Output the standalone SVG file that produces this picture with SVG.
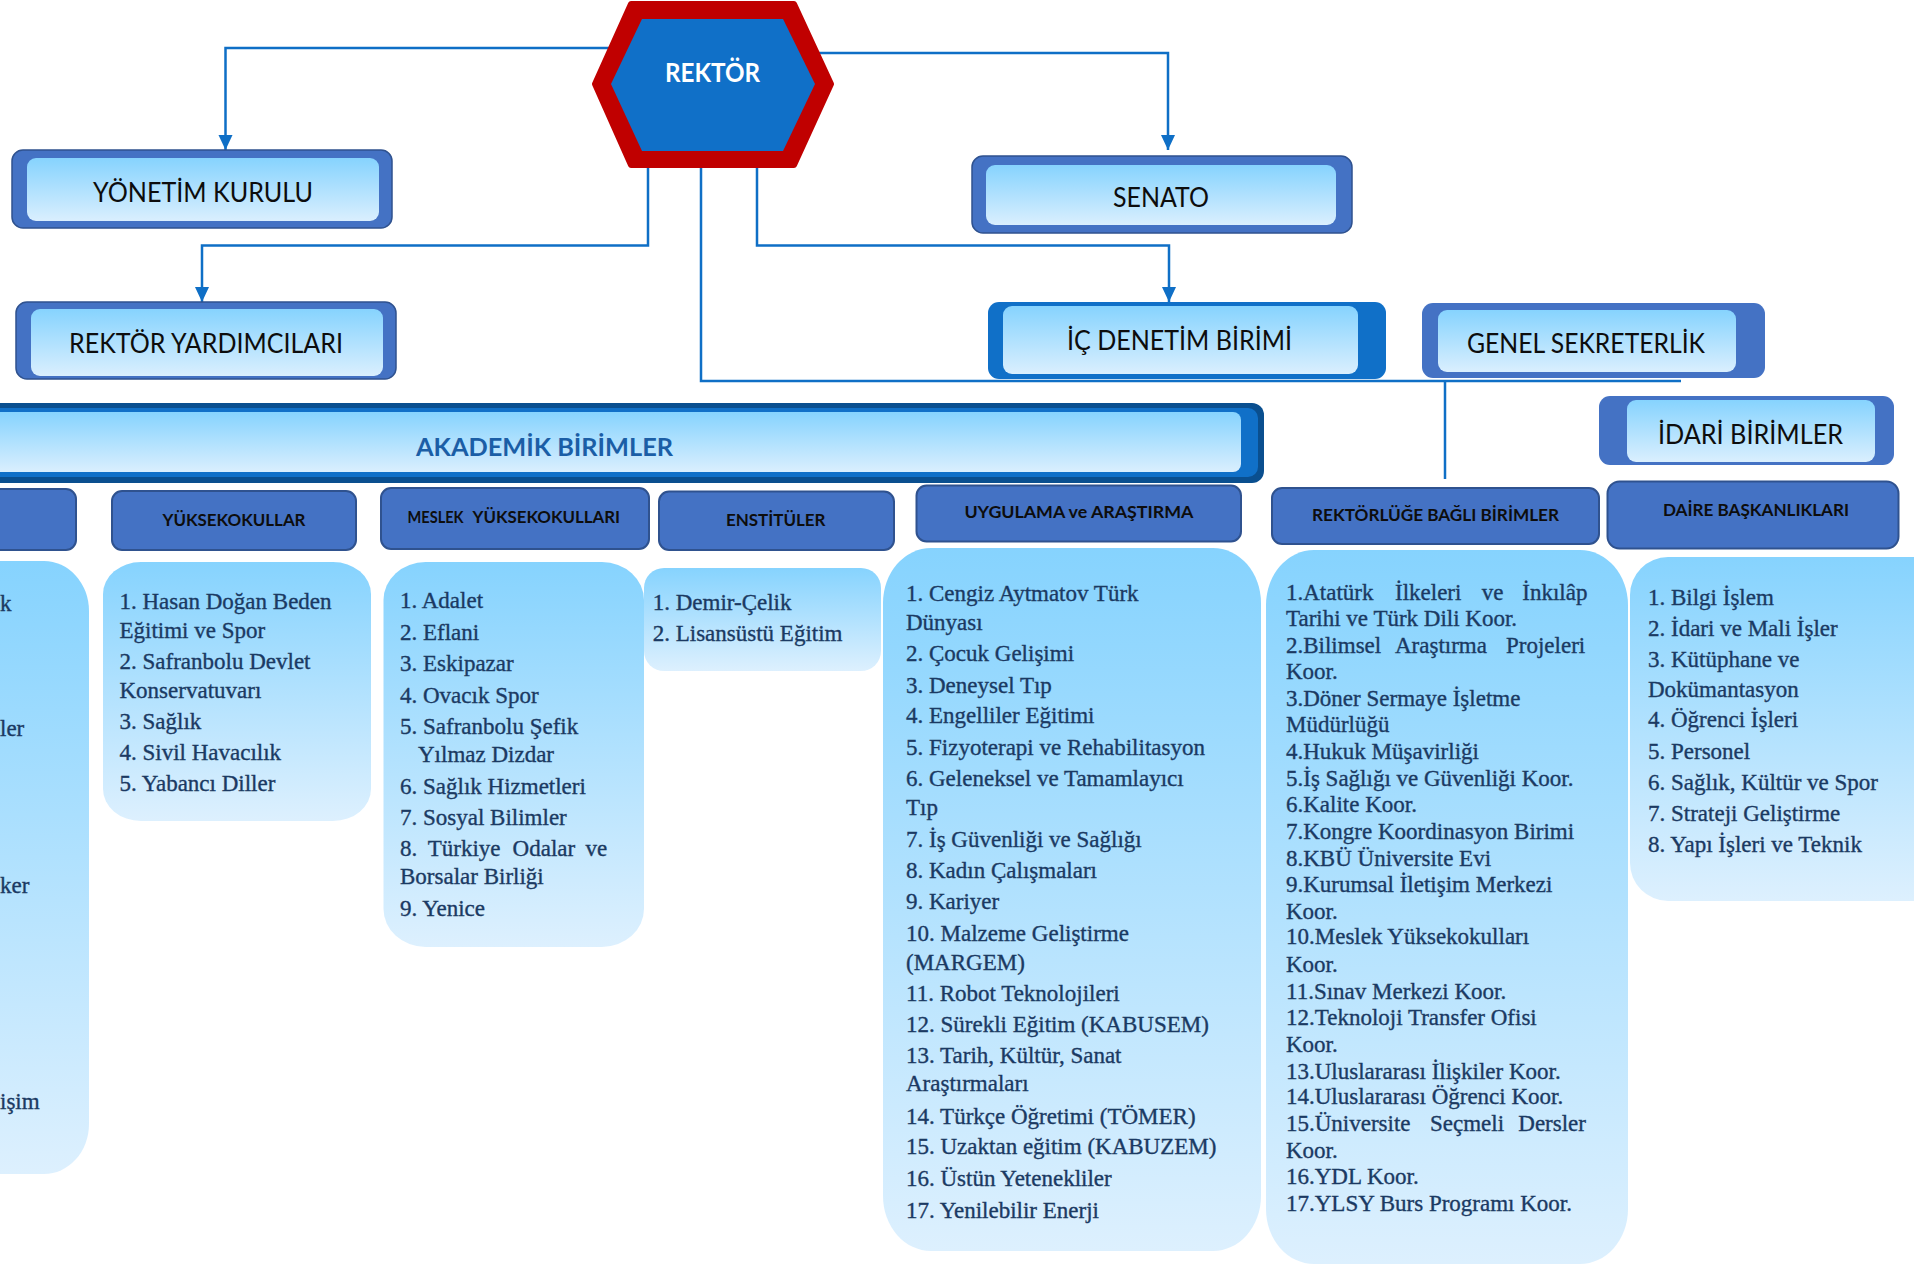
<svg xmlns="http://www.w3.org/2000/svg" width="1914" height="1267" viewBox="0 0 1914 1267">
<defs>
<linearGradient id="lg" x1="0" y1="0" x2="0" y2="1"><stop offset="0" stop-color="#86D3FE"/><stop offset="1" stop-color="#DAEFFE"/></linearGradient>
<linearGradient id="lg2" x1="0" y1="0" x2="0" y2="1"><stop offset="0" stop-color="#86D3FE"/><stop offset="1" stop-color="#DDF0FE"/></linearGradient>
<style>
.lbl{font-family:Lato,"Liberation Sans",sans-serif;font-size:26px;fill:#0D0D0D}
.hdr{font-family:Lato,"Liberation Sans",sans-serif;font-weight:bold;font-size:17px;fill:#0D0D0D}
.lst{font-family:"Liberation Serif",serif;font-size:23px;fill:#1B3A63;stroke:#1B3A63;stroke-width:0.35}
.obox{fill:#4472C4;stroke:#2F528F;stroke-width:1.5}
.hbox{fill:#4472C4;stroke:#2F528F;stroke-width:2}
.ibox{fill:url(#lg)}
.lbox{fill:url(#lg2)}
.conn{fill:none;stroke:#0F6FC6;stroke-width:2.5}
.arrow{fill:#0F6FC6}
</style>
</defs>
<rect width="1914" height="1267" fill="#FFFFFF"/>

<g id="connectors">
<path class="conn" d="M611,48 H225.5 V150"/>
<path class="conn" d="M648,166 V245.5 H202 V302"/>
<path class="conn" d="M816,53 H1168 V150"/>
<path class="conn" d="M757,166 V245.5 H1169 V302"/>
<path class="conn" d="M701,166 V381 H1681"/>
<path class="conn" d="M1445,381 V479"/>
<path class="arrow" d="M218.5,135 L232.5,135 L225.5,150 Z"/>
<path class="arrow" d="M195,287 L209,287 L202,302 Z"/>
<path class="arrow" d="M1161,135 L1175,135 L1168,150 Z"/>
<path class="arrow" d="M1162,287 L1176,287 L1169,302 Z"/>
</g>

<g id="rektor">
<polygon points="631,4 794,4 831,84 794,165 631,165 595,84" fill="#C00000" stroke="#C00000" stroke-width="6" stroke-linejoin="round"/>
<polygon points="642,19 783,19 815,84 783,151 642,151 611,84" fill="#1070C8"/>
<text x="665" y="82" font-family="Lato,'Liberation Sans',sans-serif" font-weight="bold" font-size="26" fill="#FFFFFF" textLength="95" lengthAdjust="spacingAndGlyphs">REKTÖR</text>
</g>

<g id="yonetim-kurulu">
<rect class="obox" x="12" y="150" width="380" height="78" rx="11"/>
<rect class="ibox" x="27" y="158" width="352" height="63" rx="9"/>
<text class="lbl" x="93" y="202" textLength="220" lengthAdjust="spacingAndGlyphs">YÖNETİM KURULU</text>
</g>

<g id="rektor-yardimcilari">
<rect class="obox" x="16" y="302" width="380" height="77" rx="11"/>
<rect class="ibox" x="31" y="309" width="352" height="67" rx="9"/>
<text class="lbl" x="69" y="353" textLength="274" lengthAdjust="spacingAndGlyphs">REKTÖR YARDIMCILARI</text>
</g>

<g id="senato">
<rect class="obox" x="972" y="156" width="380" height="77" rx="11"/>
<rect class="ibox" x="986" y="165" width="350" height="60" rx="9"/>
<text class="lbl" x="1113" y="207" textLength="96" lengthAdjust="spacingAndGlyphs">SENATO</text>
</g>

<g id="ic-denetim">
<rect x="988" y="302" width="398" height="77" rx="11" fill="#1070C8"/>
<rect class="ibox" x="1003" y="306" width="355" height="68" rx="9"/>
<text class="lbl" x="1067" y="350" textLength="225" lengthAdjust="spacingAndGlyphs">İÇ DENETİM BİRİMİ</text>
</g>

<g id="genel-sekreterlik">
<rect x="1422" y="303" width="343" height="75" rx="11" fill="#4472C4"/>
<rect class="ibox" x="1438" y="310" width="298" height="62" rx="9"/>
<text class="lbl" x="1467" y="353" textLength="238" lengthAdjust="spacingAndGlyphs">GENEL SEKRETERLİK</text>
</g>

<g id="idari-birimler">
<rect x="1599" y="396" width="295" height="69" rx="11" fill="#4472C4"/>
<rect class="ibox" x="1627" y="400" width="248" height="62" rx="9"/>
<text class="lbl" x="1658" y="444" textLength="185" lengthAdjust="spacingAndGlyphs">İDARİ BİRİMLER</text>
</g>

<g id="akademik-birimler">
<rect x="-30" y="403" width="1294" height="80" rx="12" fill="#0A4F8F"/>
<rect x="-30" y="408" width="1288" height="69" rx="10" fill="#1070C8"/>
<rect x="-30" y="412" width="1271" height="60" rx="8" fill="url(#lg)"/>
<text x="416" y="456" font-family="Lato,'Liberation Sans',sans-serif" font-weight="bold" font-size="24" fill="#1B5EA6" textLength="257" lengthAdjust="spacingAndGlyphs">AKADEMİK BİRİMLER</text>
</g>

<g id="fakulteler">
<rect class="hbox" x="-20" y="489" width="96" height="61" rx="10"/>
<rect class="lbox" x="-60" y="561" width="149" height="613" rx="45" ry="50"/>
<text class="lst" x="0" y="611">k</text>
<text class="lst" x="0" y="736">ler</text>
<text class="lst" x="0" y="893">ker</text>
<text class="lst" x="0" y="1109">işim</text>
</g>

<g id="yuksekokullar">
<rect class="hbox" x="112" y="491" width="244" height="59" rx="10"/>
<text class="hdr" x="162.5" y="526" textLength="143" lengthAdjust="spacingAndGlyphs">YÜKSEKOKULLAR</text>
<rect class="lbox" x="103" y="562" width="268" height="259" rx="38" ry="32"/>
<text class="lst" x="119.5" y="608.5">1. Hasan Doğan Beden</text>
<text class="lst" x="119.5" y="638">Eğitimi ve Spor</text>
<text class="lst" x="119.5" y="668.5">2. Safranbolu Devlet</text>
<text class="lst" x="119.5" y="697.5">Konservatuvarı</text>
<text class="lst" x="119.5" y="728.5">3. Sağlık</text>
<text class="lst" x="119.5" y="760">4. Sivil Havacılık</text>
<text class="lst" x="119.5" y="791">5. Yabancı Diller</text>
</g>

<g id="meslek-yuksekokullari">
<rect class="hbox" x="381" y="488" width="268" height="61" rx="10"/>
<text class="hdr" x="407.6" y="522.7" font-size="13" textLength="56" lengthAdjust="spacingAndGlyphs">MESLEK</text>
<text class="hdr" x="472.5" y="522.7" textLength="147.5" lengthAdjust="spacingAndGlyphs">YÜKSEKOKULLARI</text>
<rect class="lbox" x="383.5" y="562" width="260.5" height="385" rx="42" ry="38"/>
<text class="lst" x="400" y="608">1. Adalet</text>
<text class="lst" x="400" y="640">2. Eflani</text>
<text class="lst" x="400" y="671">3. Eskipazar</text>
<text class="lst" x="400" y="702.5">4. Ovacık Spor</text>
<text class="lst" x="400" y="734">5. Safranbolu Şefik</text>
<text class="lst" x="418" y="762">Yılmaz Dizdar</text>
<text class="lst" x="400" y="794">6. Sağlık Hizmetleri</text>
<text class="lst" x="400" y="824.5">7. Sosyal Bilimler</text>
<text class="lst" y="856"><tspan x="400">8.</tspan><tspan x="427.7">Türkiye</tspan><tspan x="512.6">Odalar</tspan><tspan x="585.5">ve</tspan></text>
<text class="lst" x="400" y="884">Borsalar Birliği</text>
<text class="lst" x="400" y="915.5">9. Yenice</text>
</g>

<g id="enstituler">
<rect class="hbox" x="659" y="491.5" width="235" height="58.5" rx="10"/>
<text class="hdr" x="726" y="526" textLength="99.5" lengthAdjust="spacingAndGlyphs">ENSTİTÜLER</text>
<rect class="lbox" x="644" y="568" width="237" height="103" rx="20"/>
<text class="lst" x="652.7" y="609.5">1. Demir-Çelik</text>
<text class="lst" x="652.7" y="640.8">2. Lisansüstü Eğitim</text>
</g>

<g id="uygulama-arastirma">
<rect class="hbox" x="916.5" y="485.5" width="324.5" height="56" rx="10"/>
<text class="hdr" x="964.4" y="517.5" textLength="229" lengthAdjust="spacingAndGlyphs">UYGULAMA ve ARAŞTIRMA</text>
<rect class="lbox" x="883" y="548" width="378" height="703" rx="48" ry="55"/>
<text class="lst" x="906" y="600.6">1. Cengiz Aytmatov Türk</text>
<text class="lst" x="906" y="630.2">Dünyası</text>
<text class="lst" x="906" y="660.9">2. Çocuk Gelişimi</text>
<text class="lst" x="906" y="692.6">3. Deneysel Tıp</text>
<text class="lst" x="906" y="723.3">4. Engelliler Eğitimi</text>
<text class="lst" x="906" y="755">5. Fizyoterapi ve Rehabilitasyon</text>
<text class="lst" x="906" y="786.2">6. Geleneksel ve Tamamlayıcı</text>
<text class="lst" x="906" y="815.3">Tıp</text>
<text class="lst" x="906" y="847">7. İş Güvenliği ve Sağlığı</text>
<text class="lst" x="906" y="877.7">8. Kadın Çalışmaları</text>
<text class="lst" x="906" y="908.9">9. Kariyer</text>
<text class="lst" x="906" y="940.5">10. Malzeme Geliştirme</text>
<text class="lst" x="906" y="970.2">(MARGEM)</text>
<text class="lst" x="906" y="1000.9">11. Robot Teknolojileri</text>
<text class="lst" x="906" y="1031.6">12. Sürekli Eğitim (KABUSEM)</text>
<text class="lst" x="906" y="1063.2">13. Tarih, Kültür, Sanat</text>
<text class="lst" x="906" y="1091.4">Araştırmaları</text>
<text class="lst" x="906" y="1123.6">14. Türkçe Öğretimi (TÖMER)</text>
<text class="lst" x="906" y="1154.2">15. Uzaktan eğitim (KABUZEM)</text>
<text class="lst" x="906" y="1185.9">16. Üstün Yetenekliler</text>
<text class="lst" x="906" y="1217.6">17. Yenilebilir Enerji</text>
</g>

<g id="rektorluge-bagli-birimler">
<rect class="hbox" x="1272" y="488" width="327" height="56" rx="10"/>
<text class="hdr" x="1312" y="521" textLength="247" lengthAdjust="spacingAndGlyphs">REKTÖRLÜĞE BAĞLI BİRİMLER</text>
<rect class="lbox" x="1266" y="550" width="362" height="714" rx="48" ry="55"/>
<text class="lst" y="600"><tspan x="1286">1.Atatürk</tspan><tspan x="1395">İlkeleri</tspan><tspan x="1481.7">ve</tspan><tspan x="1522.3">İnkılâp</tspan></text>
<text class="lst" x="1286" y="625.8">Tarihi ve Türk Dili Koor.</text>
<text class="lst" y="653.1"><tspan x="1286">2.Bilimsel</tspan><tspan x="1395">Araştırma</tspan><tspan x="1506">Projeleri</tspan></text>
<text class="lst" x="1286" y="678.9">Koor.</text>
<text class="lst" x="1286" y="705.7">3.Döner Sermaye İşletme</text>
<text class="lst" x="1286" y="731.5">Müdürlüğü</text>
<text class="lst" x="1286" y="758.8">4.Hukuk Müşavirliği</text>
<text class="lst" x="1286" y="786.1">5.İş Sağlığı ve Güvenliği Koor.</text>
<text class="lst" x="1286" y="811.9">6.Kalite Koor.</text>
<text class="lst" x="1286" y="838.7">7.Kongre Koordinasyon Birimi</text>
<text class="lst" x="1286" y="865.5">8.KBÜ Üniversite Evi</text>
<text class="lst" x="1286" y="891.8">9.Kurumsal İletişim Merkezi</text>
<text class="lst" x="1286" y="918.6">Koor.</text>
<text class="lst" x="1286" y="944.4">10.Meslek Yüksekokulları</text>
<text class="lst" x="1286" y="971.7">Koor.</text>
<text class="lst" x="1286" y="998.6">11.Sınav Merkezi Koor.</text>
<text class="lst" x="1286" y="1025.4">12.Teknoloji Transfer Ofisi</text>
<text class="lst" x="1286" y="1051.7">Koor.</text>
<text class="lst" x="1286" y="1078.5">13.Uluslararası İlişkiler Koor.</text>
<text class="lst" x="1286" y="1104.3">14.Uluslararası Öğrenci Koor.</text>
<text class="lst" y="1131.1"><tspan x="1286">15.Üniversite</tspan><tspan x="1430">Seçmeli</tspan><tspan x="1518.3">Dersler</tspan></text>
<text class="lst" x="1286" y="1158.4">Koor.</text>
<text class="lst" x="1286" y="1184.2">16.YDL Koor.</text>
<text class="lst" x="1286" y="1211">17.YLSY Burs Programı Koor.</text>
</g>

<g id="daire-baskanliklari">
<rect class="hbox" x="1607.5" y="481.5" width="291" height="67" rx="12"/>
<text class="hdr" x="1663" y="516" textLength="186" lengthAdjust="spacingAndGlyphs">DAİRE BAŞKANLIKLARI</text>
<rect class="lbox" x="1630" y="557" width="320" height="344" rx="38" ry="38"/>
<text class="lst" x="1648" y="604.5">1. Bilgi İşlem</text>
<text class="lst" x="1648" y="635.5">2. İdari ve Mali İşler</text>
<text class="lst" x="1648" y="666.5">3. Kütüphane ve</text>
<text class="lst" x="1648" y="696.5">Dokümantasyon</text>
<text class="lst" x="1648" y="727">4. Öğrenci İşleri</text>
<text class="lst" x="1648" y="758.5">5. Personel</text>
<text class="lst" x="1648" y="790">6. Sağlık, Kültür ve Spor</text>
<text class="lst" x="1648" y="820.7">7. Strateji Geliştirme</text>
<text class="lst" x="1648" y="852">8. Yapı İşleri ve Teknik</text>
</g>
</svg>
